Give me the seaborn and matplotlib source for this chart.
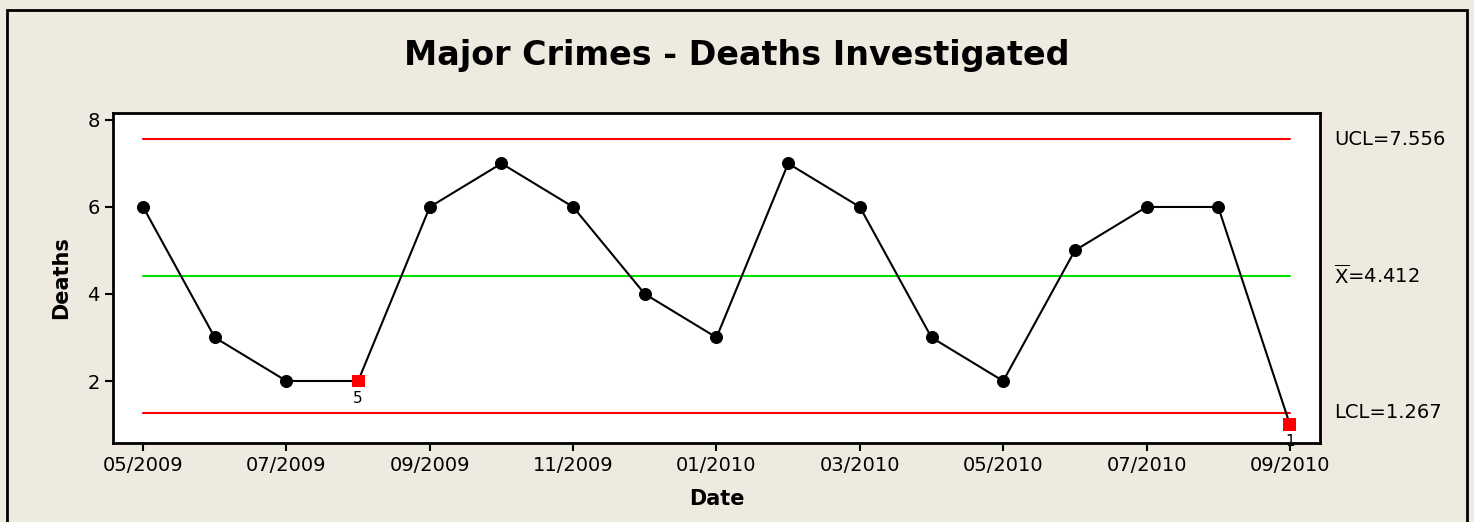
import numpy as np
import pandas as pd
import matplotlib
matplotlib.use("Agg")
import matplotlib.pyplot as plt
import seaborn as sns
from matplotlib.patches import Rectangle

# monthly counts, 05/2009 .. 09/2010
months = ["05/2009", "06/2009", "07/2009", "08/2009", "09/2009", "10/2009",
          "11/2009", "12/2009", "01/2010", "02/2010", "03/2010", "04/2010",
          "05/2010", "06/2010", "07/2010", "08/2010", "09/2010"]
deaths = [6, 3, 2, 2, 6, 7, 6, 4, 3, 7, 6, 3, 2, 5, 6, 6, 1]

ucl = 7.556
center = 4.412
lcl = 1.267

# flagged points (index -> test number)
flag_idx = [3, 16]
flag_test = ["5", "1"]

tick_labels = months[::2]

df = pd.DataFrame({"pos": np.arange(len(months)), "month": months, "deaths": deaths})
df["flag"] = df["pos"].isin(flag_idx)

sns.set_style("white")
plt.rcParams["font.family"] = ["DejaVu Sans"]
plt.rcParams["text.color"] = "black"
plt.rcParams["axes.labelcolor"] = "black"

bg = "#eeeae0"
fig = plt.figure(figsize=(14.74, 5.22), dpi=100, facecolor=bg)
ax = fig.add_axes([113 / 1474, 1 - 443 / 522, (1320 - 113) / 1474, (443 - 113) / 522])
ax.set_facecolor("white")

# outer frame
fig.patches.append(Rectangle((7 / 1474, -0.05), (1467 - 7) / 1474, 1 - 10 / 522 + 0.05,
                             transform=fig.transFigure, fill=False, ec="black", lw=2))

n = len(months) - 1
ax.plot([0, n], [ucl, ucl], color="#ff0000", lw=1.5, zorder=1)
ax.plot([0, n], [lcl, lcl], color="#ff0000", lw=1.5, zorder=1)
ax.plot([0, n], [center, center], color="#00e000", lw=1.5, zorder=1)

sns.lineplot(data=df, x="pos", y="deaths", color="black", lw=1.5, ax=ax, zorder=2)
sns.scatterplot(data=df[~df["flag"]], x="pos", y="deaths", color="black", s=75,
                marker="o", edgecolor="black", ax=ax, zorder=3)
sns.scatterplot(data=df[df["flag"]], x="pos", y="deaths", color="#ff0000", s=85,
                marker="s", edgecolor="none", ax=ax, zorder=3)

for i, t in zip(flag_idx, flag_test):
    ax.text(i, deaths[i] - 0.22, t, ha="center", va="top", fontsize=11)

ax.set_xlim(-0.42, 16.42)
ax.set_ylim(0.575, 8.16)
ax.set_xticks(np.arange(0, len(months), 2))
ax.set_xticklabels(tick_labels)
ax.set_yticks([2, 4, 6, 8])
ax.tick_params(axis="both", labelsize=14, length=6, width=1.5, direction="out",
               bottom=True, left=True, colors="black", labelcolor="black")
for s in ax.spines.values():
    s.set_linewidth(2)
    s.set_color("black")

ax.set_xlabel("Date", fontsize=15, fontweight="bold", labelpad=10)
ax.set_ylabel("Deaths", fontsize=15, fontweight="bold", labelpad=12)

fig.text(737 / 1474, 1 - 55 / 522, "Major Crimes - Deaths Investigated",
         ha="center", va="center", fontsize=24, fontweight="bold")

tr = ax.get_yaxis_transform()
ax.text(1.012, ucl, "UCL=7.556", transform=tr, fontsize=14, va="center")
ax.text(1.012, center, r"$\overline{\mathrm{X}}$=4.412", transform=tr, fontsize=14, va="center")
ax.text(1.012, lcl, "LCL=1.267", transform=tr, fontsize=14, va="center")

fig.savefig("out.png", dpi=100, facecolor=bg)
